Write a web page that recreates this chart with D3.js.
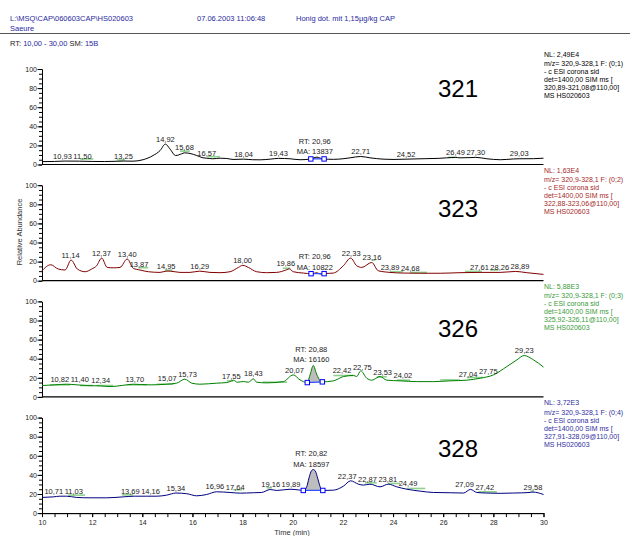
<!DOCTYPE html>
<html>
<head>
<meta charset="utf-8">
<script src="https://d3js.org/d3.v7.min.js"></script>
<style>
  body { margin: 0; background: #fff; }
  svg { display: block; font-family: "Liberation Sans", Arial, sans-serif; }
</style>
</head>
<body>
<svg id="chart"></svg>
<script>
// ---- data: [time (min), relative abundance] ----
const masses = ["321", "323", "326", "328"];
const nlValues = ["NL: 2,49E4", "NL: 1,63E4", "NL: 5,88E3", "NL: 3,72E3"];
const filterIds = ["(0;1)", "(0;2)", "(0;3)", "(0;4)"];
const simRanges = ["320,89-321,08@110,00]", "322,88-323,06@110,00]", "325,92-326,11@110,00]", "327,91-328,09@110,00]"];
const timeTicks = [10, 12, 14, 16, 18, 20, 22, 24, 26, 28, 30];
const abundanceTicks = [0, 20, 40, 60, 80, 100];

const trace321 = [[10.0,3.0],[10.5,3.2],[10.93,3.6],[11.5,3.5],[12.0,3.2],[12.5,3.1],[13.0,3.4],[13.25,3.6],[13.63,3.5],
  [14.03,5.0],[14.43,9.4],[14.71,14.6],[14.92,21.4],[15.1,16.4],[15.33,9.4],[15.57,11.2],[15.68,12.2],[15.9,11.6],
  [16.17,9.4],[16.42,7.0],[16.57,6.6],[16.81,6.0],[17.1,6.6],[17.37,6.3],[17.62,5.3],[18.04,5.6],[18.4,5.0],[18.7,4.9],
  [19.1,5.6],[19.43,6.4],[19.89,6.0],[20.29,5.0],[20.69,5.6],[20.96,7.7],[21.2,5.9],[21.62,5.4],[22.0,6.0],[22.29,7.0],
  [22.71,8.4],[23.08,7.0],[23.6,5.6],[24.0,5.3],[24.52,5.6],[25.28,6.1],[25.8,6.4],[26.14,7.0],[26.49,7.4],[26.67,7.0],
  [27.07,7.2],[27.3,7.5],[27.74,6.0],[28.28,5.0],[28.8,5.8],[29.03,6.0],[29.6,6.1],[30.0,6.6]];

const trace323 = [[10.0,10.4],[10.35,16.7],[10.65,12.2],[10.92,11.2],[11.16,21.6],[11.41,12.2],[11.72,9.4],[11.98,12.2],
  [12.18,15.7],[12.38,23.7],[12.6,13.9],[12.84,13.5],[13.11,13.9],[13.4,22.7],[13.64,13.0],[13.91,11.2],[14.24,9.4],
  [14.71,8.7],[14.95,10.0],[15.11,10.0],[15.5,8.7],[15.9,8.7],[16.29,10.0],[16.7,8.7],[17.1,8.4],[17.5,9.4],[17.83,13.9],
  [18.01,16.1],[18.23,13.9],[18.56,9.4],[18.96,8.4],[19.36,8.7],[19.76,11.5],[19.86,12.5],[20.02,9.4],[20.42,8.0],
  [20.76,7.3],[20.96,8.4],[21.09,7.0],[21.29,7.5],[21.62,8.0],[22.02,15.7],[22.31,23.7],[22.55,15.7],[22.75,13.9],
  [23.15,19.1],[23.41,10.4],[23.88,8.7],[24.4,8.0],[25.08,7.8],[25.88,7.8],[26.67,8.4],[27.47,8.7],[28.27,8.7],
  [28.89,9.7],[29.33,8.4],[30.0,6.6]];

const trace326 = [[10.0,11.9],[10.5,12.6],[10.99,13.3],[11.4,12.6],[11.78,11.9],[12.34,11.5],[12.71,10.8],[13.2,12.0],
  [13.64,13.3],[14.31,12.6],[14.97,13.3],[15.37,14.4],[15.7,18.6],[15.97,14.4],[16.3,13.3],[16.97,14.4],[17.37,15.0],
  [17.5,16.1],[17.63,17.5],[17.79,15.4],[18.03,16.1],[18.23,15.4],[18.43,18.9],[18.56,15.4],[18.96,14.7],[19.62,16.0],
  [20.02,23.0],[20.29,17.8],[20.58,15.0],[20.7,24.0],[20.82,32.9],[20.95,24.0],[21.16,15.7],[21.62,16.8],[22.02,21.3],
  [22.42,22.5],[22.55,21.3],[22.71,27.3],[22.95,19.6],[23.15,17.5],[23.48,21.3],[23.75,17.5],[24.28,16.8],[24.95,16.0],
  [25.61,16.0],[26.28,16.8],[26.94,17.5],[27.48,19.6],[28.0,23.0],[28.54,31.8],[28.94,38.8],[29.23,43.3],[29.6,38.8],
  [30.0,31.2]];

const trace328 = [[10.0,16.4],[10.45,17.0],[10.71,17.7],[10.99,17.7],[11.38,16.4],[11.91,16.0],[12.58,16.0],[13.24,17.0],
  [13.69,17.7],[14.16,17.7],[14.58,17.7],[14.97,18.8],[15.34,21.0],[15.77,20.3],[16.17,18.1],[16.57,19.5],[16.96,22.3],
  [17.5,21.6],[17.9,20.9],[18.43,21.3],[18.76,21.6],[19.1,24.7],[19.36,23.7],[19.89,25.0],[20.22,24.3],[20.42,23.7],
  [20.55,27.0],[20.65,37.0],[20.75,44.5],[20.82,45.6],[20.9,44.0],[21.0,36.0],[21.1,27.0],[21.18,23.7],[21.62,24.0],
  [22.02,28.2],[22.31,33.8],[22.62,30.3],[22.82,29.3],[23.08,30.3],[23.48,27.5],[23.81,30.3],[24.15,27.5],[24.55,25.0],
  [25.08,23.0],[25.61,21.6],[26.28,21.3],[26.81,21.0],[27.09,24.8],[27.34,21.6],[27.74,21.0],[28.27,20.7],[28.8,21.0],
  [29.47,21.6],[29.58,22.0],[30.0,19.5]];

// labelled peak retention times
const peaks321 = [10.93, 11.50, 13.25, 14.92, 15.68, 16.57, 18.04, 19.43, 22.71, 24.52, 26.49, 27.30, 29.03];
const peaks323 = [11.14, 12.37, 13.40, 13.87, 14.95, 16.29, 18.00, 19.86, 22.33, 23.16, 23.89, 24.68, 27.61, 28.26, 28.89];
const peaks326 = [10.82, 11.40, 12.34, 13.70, 15.07, 15.73, 17.55, 18.43, 20.07, 22.42, 22.75, 23.53, 24.02, 27.04, 27.75, 29.23];
const peaks328 = [10.71, 11.03, 13.69, 14.16, 15.34, 16.96, 17.64, 19.16, 19.89, 22.37, 22.87, 23.81, 24.49, 27.09, 27.42, 29.58];

// green noise marks: [start, end, level]
const green321 = [[11.52,12.05,5.8],[12.98,13.31,4.7],[15.5,15.9,14.0],[16.6,17.1,8.2],[26.2,26.54,7.5]];
const green323 = [[13.85,14.24,13.6],[14.9,15.2,11.0],[19.6,19.9,13.0],[23.15,23.3,21.6],[23.88,24.4,9.4],
  [24.68,25.35,8.7],[26.87,27.54,9.7],[27.87,28.2,11.2]];
const green326 = [[10.32,11.12,12.6],[11.52,12.05,11.9],[12.18,12.83,11.9],[13.38,14.18,12.6],[14.58,15.24,13.3],
  [17.37,17.62,16.8],[18.8,19.77,15.4],[21.62,22.42,22.4],[23.35,23.75,21.0],[24.15,24.68,17.5],[25.88,26.67,17.8],
  [26.94,27.6,20.3]];
const green328 = [[11.04,11.72,18.8],[13.19,13.64,19.1],[17.63,17.98,24.4],[18.96,19.16,26.5],[22.88,23.35,31.7],
  [23.8,24.28,31.0],[24.55,25.28,25.8],[27.4,28.14,22.3],[29.47,29.6,23.0]];

// integrated peak: [start, end, RT text, MA text]
const integ321 = [20.72, 21.25, "20,96", "13837"];
const integ323 = [20.73, 21.25, "20,96", "10822"];
const integ326 = [20.58, 21.18, "20,88", "16160"];
const integ328 = [20.42, 21.20, "20,82", "18597"];

const traceColors = ["#000000", "#800000", "#008000", "#000080"];
const infoColors = ["#000000", "#a52a2a", "#3a9a3a", "#2e2e9e"];

// ---- drawing ----
const W = 630, H = 536;
const svg = d3.select("#chart").attr("width", W).attr("height", H);
const x = d3.scaleLinear().domain([10, 30]).range([42, 543.5]);
const headBlue = "#2a2aa0";

// header
const head = svg.append("g").attr("font-size", 7.5).attr("fill", headBlue);
head.append("text").attr("x", 10).attr("y", 20.5).text("L:\\MSQ\\CAP\\060603CAP\\HS020603");
head.append("text").attr("x", 10).attr("y", 30.5).text("Saeure");
head.append("text").attr("x", 197).attr("y", 20.5).text("07.06.2003 11:06:48");
head.append("text").attr("x", 296).attr("y", 20.5).text("Honig dot. mit 1,15µg/kg CAP");
svg.append("line").attr("x1", 0).attr("x2", W).attr("y1", 33.5).attr("y2", 33.5)
  .attr("stroke", "#555").attr("stroke-width", 1);
const rt = svg.append("text").attr("x", 10).attr("y", 45.5).attr("font-size", 7.5);
rt.append("tspan").attr("fill", "#222").text("RT: ");
rt.append("tspan").attr("fill", headBlue).text("10,00 - 30,00");
rt.append("tspan").attr("fill", "#222").text("   SM: ");
rt.append("tspan").attr("fill", headBlue).text("15B");

const traces = [trace321, trace323, trace326, trace328];
const peaks = [peaks321, peaks323, peaks326, peaks328];
const greens = [green321, green323, green326, green328];
const integs = [integ321, integ323, integ326, integ328];
const fmt = t => t.toFixed(2).replace(".", ",");
const bis = d3.bisector(d => d[0]).left;

function valueAt(data, t) {
  const i = Math.max(1, Math.min(data.length - 1, bis(data, t)));
  const a = data[i - 1], b = data[i];
  const k = (t - a[0]) / (b[0] - a[0]);
  return a[1] + (b[1] - a[1]) * k;
}

// push overlapping labels apart sideways (fixed boxes stay put)
function spread(items) {
  const gap = 1.5;
  for (let iter = 0; iter < 200; iter++) {
    let moved = false;
    for (let p = 0; p < items.length; p++) {
      for (let q = 0; q < items.length; q++) {
        if (p === q) continue;
        const a = items[p], b = items[q];
        if (a.cx > b.cx || (a.cx === b.cx && p > q)) continue;
        if (a.fixed && b.fixed) continue;
        if (Math.abs(a.by - b.by) >= 8) continue;
        const ov = (a.cx + a.w / 2 + gap) - (b.cx - b.w / 2);
        if (ov <= 0.01) continue;
        moved = true;
        if (a.fixed) b.cx += ov;
        else if (b.fixed) a.cx -= ov;
        else { a.cx -= ov / 2; b.cx += ov / 2; }
      }
    }
    if (!moved) break;
  }
}

masses.forEach((m, i) => {
  const top = 69 + 116.2 * i;
  const bottom = top + 95.5;
  const y = d3.scaleLinear().domain([0, 100]).range([bottom, top]);
  const g = svg.append("g");
  const data = traces[i];

  // axes
  g.append("g").attr("transform", "translate(42,0)")
    .call(d3.axisLeft(y).tickValues(d3.range(0, 101, 5)).tickSize(3).tickSizeOuter(0).tickFormat(""));
  g.append("g").attr("transform", "translate(42,0)")
    .call(d3.axisLeft(y).tickValues(abundanceTicks).tickSize(4.5).tickSizeOuter(0).tickPadding(0.5))
    .call(a => a.selectAll("text").attr("font-size", 7).attr("fill", "#222"));
  if (i === 3) {
    g.append("g").attr("transform", `translate(0,${bottom})`)
      .call(d3.axisBottom(x).tickValues(d3.range(10, 30.01, 0.5)).tickSize(4).tickSizeOuter(0).tickFormat(""));
    g.append("g").attr("transform", `translate(0,${bottom})`)
      .call(d3.axisBottom(x).tickValues(timeTicks).tickSize(4).tickSizeOuter(0).tickPadding(2.5))
      .call(a => a.selectAll("text").attr("font-size", 7).attr("fill", "#222"));
  } else {
    g.append("line").attr("x1", x(10)).attr("x2", x(30)).attr("y1", bottom).attr("y2", bottom)
      .attr("stroke", "#000").attr("stroke-width", 1.2);
  }
  g.selectAll(".domain, .tick line").attr("stroke", "#000");

  // integrated area
  const [t0, t1, rtTxt, maTxt] = integs[i];
  const v0 = valueAt(data, t0), v1 = valueAt(data, t1);
  const inner = [[t0, v0]].concat(data.filter(d => d[0] > t0 && d[0] < t1), [[t1, v1]]);
  const baseAt = t => v0 + (v1 - v0) * (t - t0) / (t1 - t0);
  g.append("path").datum(inner)
    .attr("fill", "#bdbdbd")
    .attr("d", d3.area().x(d => x(d[0])).y0(d => y(baseAt(d[0]))).y1(d => y(d[1])).curve(d3.curveMonotoneX));

  // green marks
  g.selectAll(".gm").data(greens[i]).enter().append("line")
    .attr("x1", d => x(d[0])).attr("x2", d => x(d[1]))
    .attr("y1", d => y(d[2])).attr("y2", d => y(d[2]))
    .attr("stroke", "#8fd08f").attr("stroke-width", 1.6);

  // trace
  g.append("path").datum(data)
    .attr("fill", "none").attr("stroke", traceColors[i]).attr("stroke-width", 1)
    .attr("d", d3.line().x(d => x(d[0])).y(d => y(d[1])).curve(d3.curveMonotoneX));

  // integration baseline + markers
  g.append("line").attr("x1", x(t0)).attr("x2", x(t1)).attr("y1", y(v0)).attr("y2", y(v1))
    .attr("stroke", "#3050ff").attr("stroke-width", 1.2);
  g.selectAll(".sq").data([[t0, v0], [t1, v1]]).enter().append("rect")
    .attr("x", d => x(d[0]) - 2.2).attr("y", d => y(d[1]) - 2.2)
    .attr("width", 4.4).attr("height", 4.4)
    .attr("fill", "#fff").attr("stroke", "#0000ff").attr("stroke-width", 1);

  // RT / MA text (fixed)
  const apex = d3.max(inner, d => d[1]);
  const tApex = inner.find(d => d[1] === apex)[0];
  const maY = y(apex) - 3;
  const items = [];
  [["RT: " + rtTxt, maY - 10.5], ["MA: " + maTxt, maY]].forEach(([s, yy]) => {
    const t = g.append("text").attr("x", x(tApex) - 2).attr("y", yy)
      .attr("text-anchor", "middle").attr("font-size", 7.5).attr("fill", "#222").text(s);
    items.push({ cx: x(tApex) - 2, by: yy, w: t.node().getComputedTextLength(), fixed: true });
  });

  // peak labels
  peaks[i].forEach(t => {
    const by = y(valueAt(data, t)) - 2.5;
    const el = g.append("text").attr("y", by)
      .attr("text-anchor", "middle").attr("font-size", 7.5).attr("fill", "#222").text(fmt(t));
    items.push({ cx: x(t), by, w: el.node().getComputedTextLength(), fixed: false, el });
  });
  spread(items);
  items.filter(d => d.el).forEach(d => d.el.attr("x", d.cx));

  // mass label
  g.append("text").attr("x", 458).attr("y", 96.5 + 120 * i)
    .attr("text-anchor", "middle").attr("font-size", 24).attr("fill", "#000").text(m);

  // scan filter info
  const info = ["m/z= 320,9-328,1 F: " + filterIds[i], "- c ESI corona sid", "det=1400,00 SIM ms [", simRanges[i], "MS HS020603"];
  g.append("text").attr("x", 544).attr("y", top - 12.5).attr("font-size", 7)
    .attr("fill", infoColors[i]).text(nlValues[i]);
  g.selectAll(".info").data(info).enter().append("text")
    .attr("x", 544).attr("y", (d, k) => top - 3 + 8 * k)
    .attr("font-size", 7).attr("fill", infoColors[i]).text(d => d);
});

svg.append("text").attr("transform", "translate(22,232) rotate(-90)")
  .attr("text-anchor", "middle").attr("font-size", 7.5).attr("fill", "#333").text("Relative Abundance");
svg.append("text").attr("x", 292).attr("y", 534.5)
  .attr("text-anchor", "middle").attr("font-size", 7.5).attr("fill", "#333").text("Time (min)");
</script>
</body>
</html>
